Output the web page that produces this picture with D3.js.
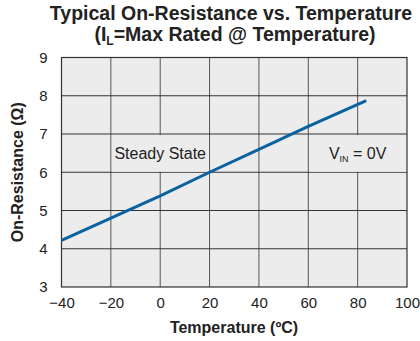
<!DOCTYPE html>
<html><head><meta charset="utf-8">
<script src="https://cdn.jsdelivr.net/npm/d3@7"></script>
<style>body{margin:0;background:#fff}svg{display:block;font-family:"Liberation Sans",Arial,sans-serif}</style>
</head><body><div id="chart"></div>
<script>
const temps = [-40, 0, 20, 40, 60, 83.5];
const resistance = [4.22, 5.38, 6.0, 6.6, 7.2, 7.87];
const xTicks = [-40, -20, 0, 20, 40, 60, 80, 100];
const yTicks = [3, 4, 5, 6, 7, 8, 9];

const W = 420, H = 341;
const m = {left: 61.5, right: 13, top: 57.5, bottom: 54};
const svg = d3.select("#chart").append("svg").attr("width", W).attr("height", H);
const x = d3.scaleLinear().domain([-40, 100]).range([m.left, W - m.right]);
const y = d3.scaleLinear().domain([3, 9]).range([H - m.bottom, m.top]);

svg.append("rect").attr("x", x(-40)).attr("y", y(9)).attr("width", x(100) - x(-40)).attr("height", y(3) - y(9)).attr("fill", "#ececec");

const g = svg.append("g");
g.selectAll(".vx").data(xTicks.slice(1, -1)).join("line")
  .attr("x1", d => x(d)).attr("x2", d => x(d)).attr("y1", y(3)).attr("y2", y(9))
  .attr("stroke", "#555").attr("stroke-width", 1);
g.selectAll(".hy").data(yTicks.slice(1, -1)).join("line")
  .attr("y1", d => y(d)).attr("y2", d => y(d)).attr("x1", x(-40)).attr("x2", x(100))
  .attr("stroke", "#333").attr("stroke-width", 1);

// label boxes masking grid
const lbl = [{t0: -20, t1: 20, v0: 6, v1: 7}, {t0: 60, t1: 100, v0: 6, v1: 7}];
svg.selectAll(".lb").data(lbl).join("rect")
  .attr("x", d => x(d.t0) + 1).attr("width", d => x(d.t1) - x(d.t0) - 2)
  .attr("y", d => y(d.v1) + 1).attr("height", d => y(d.v0) - y(d.v1) - 1.5)
  .attr("fill", "#ececec");

svg.append("rect").attr("x", x(-40)).attr("y", y(9)).attr("width", x(100) - x(-40)).attr("height", y(3) - y(9))
  .attr("fill", "none").attr("stroke", "#333").attr("stroke-width", 1.2);

const pts = temps.map((t, i) => [t, resistance[i]]);
svg.append("path").datum(pts).attr("fill", "none").attr("stroke", "#0a62a0").attr("stroke-width", 3)
  .attr("d", d3.line().x(d => x(d[0])).y(d => y(d[1])));

// axes
const xa = svg.append("g").attr("transform", `translate(0,${y(3)})`)
  .call(d3.axisBottom(x).tickValues(xTicks).tickFormat(d3.format("d")).tickSize(0).tickPadding(10));
xa.select(".domain").remove();
xa.selectAll("text").attr("font-size", 15).attr("fill", "#222").attr("font-family", "Liberation Sans, Arial, sans-serif");
const ya = svg.append("g").attr("transform", `translate(${x(-40)},0)`)
  .call(d3.axisLeft(y).tickValues(yTicks).tickFormat(d3.format("d")).tickSize(0).tickPadding(14));
ya.select(".domain").remove();
ya.selectAll("text").attr("font-size", 15).attr("fill", "#222").attr("font-family", "Liberation Sans, Arial, sans-serif");

// text labels
svg.append("text").attr("x", x(0)).attr("y", 159).attr("text-anchor", "middle")
  .attr("font-size", 16).attr("fill", "#222").text("Steady State");
const vt = svg.append("text").attr("x", x(80)).attr("y", 159).attr("text-anchor", "middle")
  .attr("font-size", 16).attr("fill", "#222");
vt.append("tspan").text("V");
vt.append("tspan").attr("font-size", 9).attr("dy", 3).text("IN");
vt.append("tspan").attr("dy", -3).text(" = 0V");

// titles
svg.append("text").attr("x", 231).attr("y", 20).attr("text-anchor", "middle")
  .attr("font-size", 19.5).attr("font-weight", "bold").attr("fill", "#222")
  .text("Typical On-Resistance vs. Temperature");
const t2 = svg.append("text").attr("x", 235).attr("y", 41).attr("text-anchor", "middle")
  .attr("font-size", 19.5).attr("font-weight", "bold").attr("fill", "#222");
t2.append("tspan").text("(I");
t2.append("tspan").attr("font-size", 12).attr("dy", 4).text("L");
t2.append("tspan").attr("dy", -4).text("=Max Rated @ Temperature)");

svg.append("text").attr("x", 234).attr("y", 333).attr("text-anchor", "middle")
  .attr("font-size", 16).attr("font-weight", "bold").attr("fill", "#222").text("Temperature (ºC)");
svg.append("text").attr("transform", `translate(23,${(y(3) + y(9)) / 2}) rotate(-90)`).attr("text-anchor", "middle")
  .attr("font-size", 16).attr("font-weight", "bold").attr("fill", "#222").text("On-Resistance (Ω)");
</script></body></html>
